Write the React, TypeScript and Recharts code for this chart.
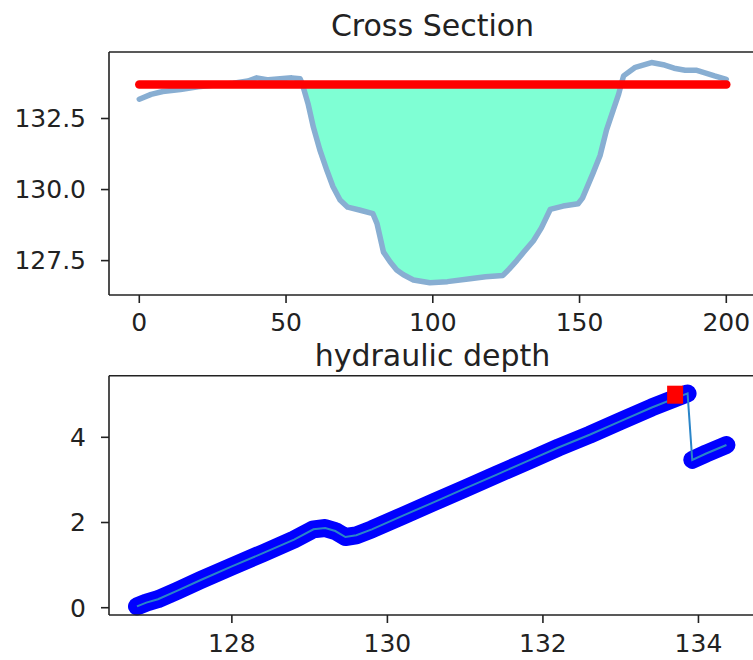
import {
  ComposedChart,
  Line,
  Area,
  Scatter,
  XAxis,
  YAxis,
  ReferenceLine,
} from "recharts";

// cross section: station (m) vs bed elevation
const stations = [
  0, 4, 8, 14, 20, 26, 32, 37, 40, 44, 48, 52, 54.8, 55.6, 57.5, 59.3, 61.5,
  64, 66, 68.4, 71, 75, 79.6, 81, 83.2, 85.5, 87.7, 90, 93.4, 99, 105, 112.7,
  118, 123.9, 126, 128.6, 131, 134.3, 137, 140, 144.4, 149.5, 151, 154.6, 157,
  159.2, 161.5, 163.3, 164.2, 165, 169, 174.5, 179, 182.2, 186, 189.7, 193,
  196, 200,
];
const bedElevation = [
  133.18, 133.35, 133.45, 133.52, 133.62, 133.68, 133.74, 133.82, 133.93,
  133.86, 133.9, 133.93, 133.9, 133.7, 133.02, 132.2, 131.4, 130.65, 130.1,
  129.63, 129.38, 129.28, 129.15, 128.8, 127.8, 127.45, 127.17, 127.0, 126.82,
  126.72, 126.76, 126.86, 126.93, 126.98, 127.2, 127.5, 127.8, 128.2, 128.65,
  129.3, 129.42, 129.5, 129.7, 130.58, 131.2, 132.1, 132.8, 133.35, 133.7,
  134.0, 134.3, 134.47, 134.38, 134.27, 134.2, 134.2, 134.1, 134.0, 133.88,
];
const waterLevel = 133.7;
const leftBank = 55.6;
const rightBank = 164.2;

// hydraulic depth curve: water level vs depth
const stageValues = [
  126.78, 126.9, 127.05, 127.3, 127.6, 128.0, 128.4, 128.8, 129.05, 129.2,
  129.33, 129.46, 129.6, 129.8, 130.2, 130.6, 131.0, 131.4, 131.8, 132.2,
  132.6, 133.0, 133.4, 133.86, 133.92, 134.1, 134.36,
];
const hydraulicDepth = [
  0.03, 0.12, 0.2, 0.4, 0.65, 0.97, 1.28, 1.6, 1.84, 1.87, 1.8, 1.66, 1.7,
  1.84, 2.16, 2.48, 2.8, 3.12, 3.44, 3.76, 4.06, 4.38, 4.7, 5.03, 3.47, 3.62,
  3.82,
];
const upperBranchEnd = 133.86;
const currentStage = [133.7];
const currentDepth = [5.0];

const sectionTicksX = [0, 50, 100, 150, 200];
const sectionTicksY = [127.5, 130, 132.5];
const depthTicksX = [128, 130, 132, 134];
const depthTicksY = [0, 2, 4];

const sectionDomainX: [number, number] = [-10.32, 210.12];
const sectionDomainY: [number, number] = [126.29, 134.84];
const depthDomainX: [number, number] = [126.42, 134.74];
const depthDomainY: [number, number] = [-0.171, 5.446];

const INK = "#222";
const FONT = "DejaVu Sans";

const sectionRows = stations.map((x, i) => ({
  x,
  bed: bedElevation[i],
  wl: waterLevel,
  water:
    x >= leftBank && x <= rightBank ? [bedElevation[i], waterLevel] : null,
}));

const depthRows = stageValues.map((x, i) => ({
  x,
  depth: hydraulicDepth[i],
  upper: x <= upperBranchEnd ? hydraulicDepth[i] : null,
  lower: x > upperBranchEnd ? hydraulicDepth[i] : null,
}));

const markerRows = currentStage.map((x, i) => ({ x, y: currentDepth[i] }));

const tickStyle = { fontSize: 25, fill: INK, fontFamily: FONT };
const lineStyle = { stroke: INK, strokeWidth: 1.6 };

const SquareMarker = (props: { cx?: number; cy?: number }) => {
  const { cx = 0, cy = 0 } = props;
  return <rect x={cx - 8} y={cy - 9} width={16} height={18} fill="#ff0000" />;
};

export default function App() {
  return (
    <div
      style={{
        position: "absolute",
        left: 0,
        top: 0,
        width: 753,
        height: 660,
        overflow: "hidden",
        background: "#fff",
        fontFamily: FONT,
      }}
    >
      <svg
        width={753}
        height={660}
        style={{ position: "absolute", left: 0, top: 0 }}
      >
        <text x={432.5} y={36} textAnchor="middle" fontSize={30} fill={INK}>
          Cross Section
        </text>
        <text x={432.5} y={366} textAnchor="middle" fontSize={30} fill={INK}>
          hydraulic depth
        </text>
      </svg>

      {/* Cross section */}
      <div style={{ position: "absolute", left: 0, top: 0 }}>
        <ComposedChart
          width={770}
          height={340}
          data={sectionRows}
          margin={{ top: 52, right: 14, left: 0, bottom: 0 }}
        >
          <XAxis
            dataKey="x"
            type="number"
            domain={sectionDomainX}
            ticks={sectionTicksX}
            interval={0}
            height={45}
            tick={tickStyle}
            tickLine={lineStyle}
            axisLine={lineStyle}
            tickSize={8}
            tickMargin={10}
          />
          <YAxis
            type="number"
            domain={sectionDomainY}
            ticks={sectionTicksY}
            interval={0}
            width={109}
            tick={tickStyle}
            tickLine={lineStyle}
            axisLine={lineStyle}
            tickSize={8}
            tickMargin={15}
            tickFormatter={(v: number) => v.toFixed(1)}
          />
          <ReferenceLine y={sectionDomainY[1]} stroke={INK} strokeWidth={1.6} ifOverflow="visible" />
          <ReferenceLine x={sectionDomainX[1]} stroke={INK} strokeWidth={1.6} ifOverflow="visible" />
          <Area
            type="linear"
            dataKey="water"
            fill="#7fffd4"
            fillOpacity={1}
            stroke="none"
            dot={false}
            activeDot={false}
            isAnimationActive={false}
          />
          <Line
            type="linear"
            dataKey="bed"
            stroke="#88aed2"
            strokeWidth={5.5}
            strokeLinejoin="round"
            strokeLinecap="round"
            dot={false}
            activeDot={false}
            isAnimationActive={false}
          />
          <Line
            type="linear"
            dataKey="wl"
            stroke="#ff0000"
            strokeWidth={8.5}
            strokeLinecap="round"
            dot={false}
            activeDot={false}
            isAnimationActive={false}
          />
        </ComposedChart>
      </div>

      {/* Hydraulic depth */}
      <div style={{ position: "absolute", left: 0, top: 330 }}>
        <ComposedChart
          width={770}
          height={330}
          data={depthRows}
          margin={{ top: 45.7, right: 14, left: 0, bottom: 0 }}
        >
          <XAxis
            dataKey="x"
            type="number"
            domain={depthDomainX}
            ticks={depthTicksX}
            interval={0}
            height={45}
            tick={tickStyle}
            tickLine={lineStyle}
            axisLine={lineStyle}
            tickSize={8}
            tickMargin={11}
          />
          <YAxis
            type="number"
            domain={depthDomainY}
            ticks={depthTicksY}
            interval={0}
            width={109}
            tick={tickStyle}
            tickLine={lineStyle}
            axisLine={lineStyle}
            tickSize={8}
            tickMargin={15}
          />
          <ReferenceLine y={depthDomainY[1]} stroke={INK} strokeWidth={1.6} ifOverflow="visible" />
          <ReferenceLine x={depthDomainX[1]} stroke={INK} strokeWidth={1.6} ifOverflow="visible" />
          <Line
            type="linear"
            dataKey="upper"
            stroke="#0000ff"
            strokeWidth={18}
            strokeLinejoin="round"
            strokeLinecap="round"
            dot={false}
            activeDot={false}
            isAnimationActive={false}
          />
          <Line
            type="linear"
            dataKey="lower"
            stroke="#0000ff"
            strokeWidth={18}
            strokeLinejoin="round"
            strokeLinecap="round"
            dot={false}
            activeDot={false}
            isAnimationActive={false}
          />
          <Line
            type="linear"
            dataKey="depth"
            stroke="#2a85c8"
            strokeWidth={2}
            dot={false}
            activeDot={false}
            isAnimationActive={false}
          />
          <Scatter
            data={markerRows}
            dataKey="y"
            fill="#ff0000"
            shape={(p: any) => <SquareMarker cx={p.cx} cy={p.cy} />}
            isAnimationActive={false}
          />
        </ComposedChart>
      </div>
    </div>
  );
}
